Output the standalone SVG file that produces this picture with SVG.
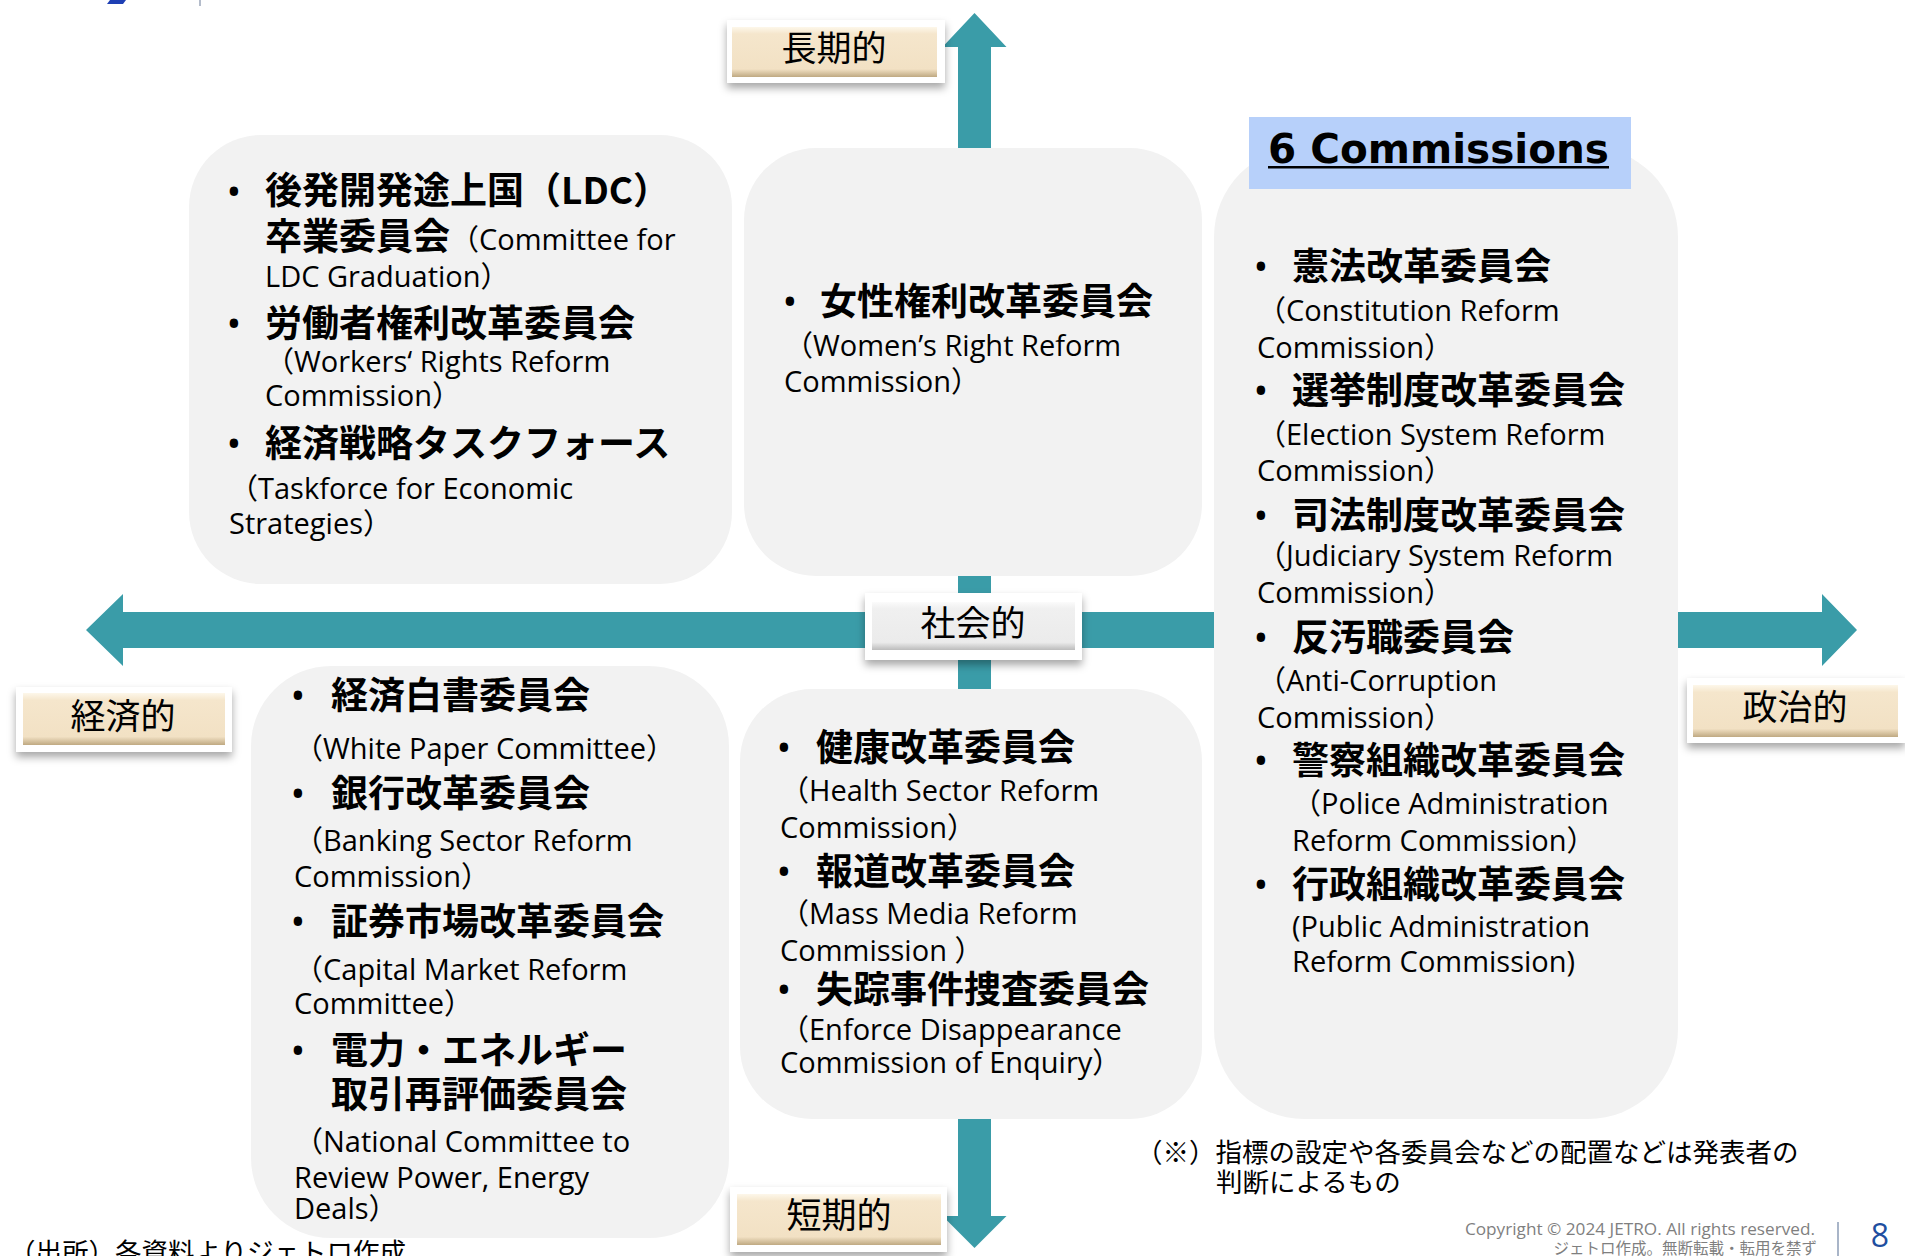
<svg xmlns="http://www.w3.org/2000/svg" width="1905" height="1256" viewBox="0 0 1905 1256">
<defs>
<style>
.box{fill:#f2f2f2}
.arrow{fill:#3a9ca8}
.b{font-family:"Noto Sans CJK JP",sans-serif;font-weight:700;font-size:37px;fill:#000}
.r{font-family:"Open Sans","Noto Sans CJK JP",sans-serif;font-weight:400;font-size:29px;fill:#000}
.bul{font-family:"Open Sans",sans-serif;font-weight:700;font-size:30px;text-anchor:middle;fill:#000}
.lbl{font-family:"Noto Sans CJK JP",sans-serif;font-size:35px;text-anchor:middle;fill:#000}
.note{font-family:"Noto Sans CJK JP",sans-serif;font-size:26.5px;fill:#000}
.outer{fill:#fff}
</style>
<linearGradient id="beige" x1="0" y1="0" x2="0" y2="1">
<stop offset="0" stop-color="#fdf7ea"/>
<stop offset="0.14" stop-color="#f5e6cc"/>
<stop offset="0.84" stop-color="#f2e1c4"/>
<stop offset="1" stop-color="#bfa982"/>
</linearGradient>
<linearGradient id="grey" x1="0" y1="0" x2="0" y2="1">
<stop offset="0" stop-color="#fbfbfb"/>
<stop offset="0.14" stop-color="#f0f0f0"/>
<stop offset="0.84" stop-color="#ebebeb"/>
<stop offset="1" stop-color="#bcbcbc"/>
</linearGradient>
<filter id="sh" x="-10%" y="-20%" width="120%" height="160%">
<feDropShadow dx="0" dy="5" stdDeviation="4" flood-color="#000" flood-opacity="0.35"/>
</filter>
</defs>
<rect width="1905" height="1256" fill="#fff"/>

<g id="logo">
<polygon points="110,0 126,0 123,4 107,4" fill="#1e3fb4"/>
<rect x="199" y="0" width="2" height="6" fill="#b4bccb"/>
</g>

<g id="connectors">
<polygon class="arrow" points="974.5,13 1006.5,47 991,47 991,1216 1006.5,1216 974.5,1248 942.5,1216 958,1216 958,47 942.5,47"/>
<polygon class="arrow" points="86,630 123,594 123,612 1822,612 1822,594 1857,630 1822,666 1822,648 123,648 123,666"/>
</g>

<g id="box-top-left">
<rect class="box" x="189" y="135" width="543" height="449" rx="72" ry="72"/>
<text class="bul" x="234" y="202">•</text>
<text class="b" x="265" y="204">後発開発途上国（LDC）</text>
<text x="265" y="250"><tspan class="b">卒業委員会</tspan><tspan class="r">（Committee for</tspan></text>
<text class="r" x="265" y="287">LDC Graduation）</text>
<text class="bul" x="234" y="334">•</text>
<text class="b" x="265" y="337">労働者権利改革委員会</text>
<text class="r" x="265" y="372">（Workers‘ Rights Reform</text>
<text class="r" x="265" y="406">Commission）</text>
<text class="bul" x="234" y="454">•</text>
<text class="b" x="265" y="457">経済戦略タスクフォース</text>
<text class="r" x="229" y="499">（Taskforce for Economic</text>
<text class="r" x="229" y="534">Strategies）</text>
</g>

<g id="box-top-middle">
<rect class="box" x="744" y="148" width="458" height="428" rx="72" ry="72"/>
<text class="bul" x="790" y="312">•</text>
<text class="b" x="820" y="315">女性権利改革委員会</text>
<text class="r" x="784" y="356">（Women’s Right Reform</text>
<text class="r" x="784" y="392">Commission）</text>
</g>

<g id="box-right">
<rect class="box" x="1214" y="147" width="464" height="972" rx="90" ry="90"/>
<rect x="1249" y="117" width="382" height="72" fill="#b7d0fa"/>
<text x="1268" y="163" font-family="DejaVu Sans, sans-serif" font-weight="700" font-size="40.5" fill="#000">6 Commissions</text>
<rect x="1268" y="166" width="341" height="2.5" fill="#000"/>
<text class="bul" x="1261" y="277">•</text>
<text class="b" x="1292" y="280">憲法改革委員会</text>
<text class="r" x="1257" y="321">（Constitution Reform</text>
<text class="r" x="1257" y="358">Commission）</text>
<text class="bul" x="1261" y="401">•</text>
<text class="b" x="1292" y="404">選挙制度改革委員会</text>
<text class="r" x="1257" y="445">（Election System Reform</text>
<text class="r" x="1257" y="481">Commission）</text>
<text class="bul" x="1261" y="526">•</text>
<text class="b" x="1292" y="529">司法制度改革委員会</text>
<text class="r" x="1257" y="566">（Judiciary System Reform</text>
<text class="r" x="1257" y="603">Commission）</text>
<text class="bul" x="1261" y="648">•</text>
<text class="b" x="1292" y="651">反汚職委員会</text>
<text class="r" x="1257" y="691">（Anti-Corruption</text>
<text class="r" x="1257" y="728">Commission）</text>
<text class="bul" x="1261" y="771">•</text>
<text class="b" x="1292" y="774">警察組織改革委員会</text>
<text class="r" x="1292" y="814">（Police Administration</text>
<text class="r" x="1292" y="851">Reform Commission）</text>
<text class="bul" x="1261" y="895">•</text>
<text class="b" x="1292" y="898">行政組織改革委員会</text>
<text class="r" x="1292" y="937">(Public Administration</text>
<text class="r" x="1292" y="972">Reform Commission)</text>
</g>

<g id="box-bottom-left">
<rect class="box" x="251" y="666" width="478" height="572" rx="80" ry="80"/>
<text class="bul" x="298" y="706">•</text>
<text class="b" x="331" y="709">経済白書委員会</text>
<text class="r" x="294" y="759">（White Paper Committee）</text>
<text class="bul" x="298" y="804">•</text>
<text class="b" x="331" y="807">銀行改革委員会</text>
<text class="r" x="294" y="851">（Banking Sector Reform</text>
<text class="r" x="294" y="887">Commission）</text>
<text class="bul" x="298" y="932">•</text>
<text class="b" x="331" y="935">証券市場改革委員会</text>
<text class="r" x="294" y="980">（Capital Market Reform</text>
<text class="r" x="294" y="1014">Committee）</text>
<text class="bul" x="298" y="1061">•</text>
<text class="b" x="331" y="1064">電力・エネルギー</text>
<text class="b" x="331" y="1108">取引再評価委員会</text>
<text class="r" x="294" y="1152">（National Committee to</text>
<text class="r" x="294" y="1188">Review Power, Energy</text>
<text class="r" x="294" y="1219">Deals）</text>
</g>

<g id="box-bottom-middle">
<rect class="box" x="740" y="689" width="462" height="430" rx="72" ry="72"/>
<text class="bul" x="784" y="758">•</text>
<text class="b" x="816" y="761">健康改革委員会</text>
<text class="r" x="780" y="801">（Health Sector Reform</text>
<text class="r" x="780" y="838">Commission）</text>
<text class="bul" x="784" y="882">•</text>
<text class="b" x="816" y="885">報道改革委員会</text>
<text class="r" x="780" y="924">（Mass Media Reform</text>
<text class="r" x="780" y="961">Commission ）</text>
<text class="bul" x="784" y="1000">•</text>
<text class="b" x="816" y="1003">失踪事件捜査委員会</text>
<text class="r" x="780" y="1040">（Enforce Disappearance</text>
<text class="r" x="780" y="1073">Commission of Enquiry）</text>
</g>

<g id="label-long">
<rect class="outer" x="727" y="20" width="218" height="63" filter="url(#sh)"/>
<rect x="732" y="27" width="205" height="50" fill="url(#beige)"/>
<text class="lbl" x="834" y="61">長期的</text>
</g>
<g id="label-economic">
<rect class="outer" x="16" y="687" width="216" height="65" filter="url(#sh)"/>
<rect x="23" y="693" width="202" height="52" fill="url(#beige)"/>
<text class="lbl" x="123" y="729">経済的</text>
</g>
<g id="label-social">
<rect class="outer" x="865" y="593" width="217" height="67" filter="url(#sh)"/>
<rect x="872" y="602" width="203" height="48" fill="url(#grey)"/>
<text class="lbl" x="973" y="636">社会的</text>
</g>
<g id="label-political">
<rect class="outer" x="1687" y="678" width="218" height="65" filter="url(#sh)"/>
<rect x="1693" y="685" width="205" height="52" fill="url(#beige)"/>
<text class="lbl" x="1795" y="720">政治的</text>
</g>
<g id="label-short">
<rect class="outer" x="730" y="1187" width="217" height="65" filter="url(#sh)"/>
<rect x="737" y="1194" width="204" height="51" fill="url(#beige)"/>
<text class="lbl" x="839" y="1228">短期的</text>
</g>

<g id="notes">
<text class="note" x="1136" y="1162">（※）指標の設定や各委員会などの配置などは発表者の</text>
<text class="note" x="1216" y="1192">判断によるもの</text>
<text class="note" x="9" y="1262" font-size="26">（出所）各資料よりジェトロ作成</text>
</g>

<g id="footer">
<text x="1815" y="1235" font-family="Open Sans, sans-serif" font-size="17.2" fill="#7f7f7f" text-anchor="end">Copyright © 2024 JETRO. All rights reserved.</text>
<text x="1817" y="1254" font-family="Noto Sans CJK JP, sans-serif" font-size="15.5" fill="#7f7f7f" text-anchor="end">ジェトロ作成。無断転載・転用を禁ず</text>
<rect x="1837" y="1222" width="2" height="34" fill="#a9b5c8"/>
<text x="1880" y="1247" font-family="Open Sans, sans-serif" font-size="32" fill="#1f4fa0" text-anchor="middle">8</text>
</g>
</svg>
